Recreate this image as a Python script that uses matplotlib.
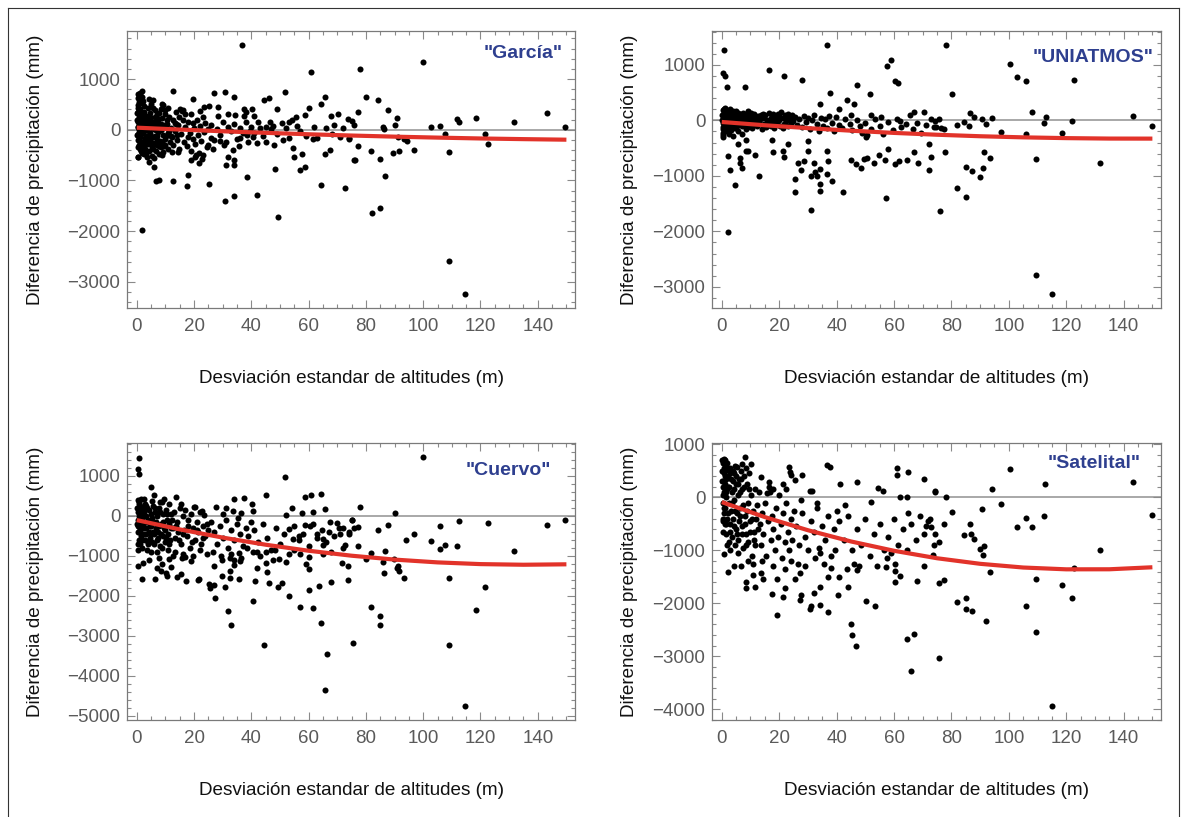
import numpy as np
import matplotlib
matplotlib.use("Agg")
import matplotlib.pyplot as plt
from matplotlib.ticker import MultipleLocator
from matplotlib.lines import Line2D

plt.rcParams['font.family'] = ['Liberation Sans', 'DejaVu Sans']

# ---- data (x = std dev of altitudes, y = precip. difference) ----
garcia_pts = [
    # outliers / sparse points
    (36.6, 1677), (61, 1137), (1.9, -1986), (49.4, -1729), (12.6, 756), (19.8, 611), (27.1, 717),
    (30.8, 750), (34, 644), (44.4, 592), (46, 625), (51.6, 750), (65.8, 638), (64.3, 513), (70.1, 309),
    (60.1, 421), (48.8, 408), (46.4, 151), (67.9, 263), (73.6, 210), (58.7, 283), (55.7, 243), (54.3, 197),
    (37.3, 414), (40.2, 414), (38, 348), (34.4, 283), (31.9, 316), (28.3, 440), (25.3, 473), (23.6, 447),
    (22.1, 362), (15.1, 408), (15.7, 362), (17, 309), (41, 263), (42.4, 145), (45, 53), (47.7, 79),
    (50.7, 125), (53, 151), (42.1, -256), (45, -250), (48, -296), (51.2, -210), (54.5, -362), (54.8, -546),
    (57.8, -480), (57, -789), (58.8, -743), (61.6, -178), (65.6, -473), (67.6, -408), (64.2, -1085),
    (72.7, -1144), (76, -592), (48.4, -769), (38.4, -927), (42.1, -1282), (34.1, -1302), (30.9, -1400),
    (34.1, -690), (34, -592), (32, -546), (31, -703), (25.2, -1072), (17.4, -1105), (17.9, -888),
    (21.7, -658), (19.1, -592), (20.7, -493), (12.6, -1006), (7.9, -993), (6.7, -1019), (6, -743),
    (4.3, -638), (5.3, -526), (8.7, -493), (0.5, -546), (2, -454), (14.3, -441), (10.8, -375),
    (25, -296), (26, -164), (29, -230), (30.3, -309), (35.7, -329), (36, -164), (38.4, -99), (40.7, -151),
    (77.8, 1190), (100, 1328), (79.9, 644), (84.3, 579), (77.4, 348), (87.6, 381), (90.7, 230), (90.3, 85),
    (86, 46), (86.3, 13), (75.3, 164), (75.8, 85), (102.8, 59), (105.8, 66), (111.8, 210), (112.6, 145),
    (118.5, 224), (131.7, 151), (143.2, 322), (149.4, 46), (107.7, -85), (109.1, -447), (121.5, -92),
    (122.5, -283), (96.9, -408), (93.4, -178), (94.2, -217), (91.1, -151), (91.7, -421), (89.6, -467),
    (86.8, -914), (84.9, -579), (81.8, -414), (77.1, -329), (76.2, -598), (74.1, -164), (82, -1644),
    (84.9, -1552), (109.1, -2597), (114.6, -3248),
    # dense cluster
    (0.2, 320), (0.3, 150), (0.4, -80), (0.5, 480), (0.5, -200), (0.6, 60), (0.7, 250), (0.8, -300),
    (0.9, 620), (1.0, -20), (1.1, 180), (1.2, -150), (1.3, 400), (1.4, 100), (1.5, -420), (0.3, -350),
    (0.6, -540), (0.9, 540), (1.2, 680), (1.0, 290), (0.4, 420), (0.7, -10), (1.4, -250), (0.2, 200),
    (0.8, 30), (1.2, 723), (1.9, 756), (0.5, 625),
    (2.1, 220), (2.3, -60), (2.5, 350), (2.6, -220), (2.8, 90), (3.0, -380), (3.1, 160), (3.3, -120),
    (3.4, 280), (3.6, 20), (3.8, -280), (3.9, 420), (2.2, 560), (2.7, -480), (3.5, -530), (2.4, 130),
    (3.2, -10), (3.7, 200), (2.9, -170), (4.0, 60),
    (4.2, -200), (4.5, 330), (4.7, -60), (5.0, 180), (5.2, -350), (5.4, 120), (5.6, -140), (5.8, 420),
    (6.0, 10), (6.2, -260), (6.4, 250), (6.6, -420), (6.8, 90), (7.0, -120), (4.8, 500), (5.9, -560),
    (6.5, 380), (7.1, 300), (4.4, -420), (6.9, -300), (4.4, 605), (5.5, 585),
    (7.3, 150), (7.5, -40), (7.8, 330), (8.0, -220), (8.2, 60), (8.5, -340), (8.8, 230), (9.0, -100),
    (9.2, 480), (9.5, 100), (9.8, -180), (10.0, 300), (7.6, -480), (9.3, -430), (8.6, -10), (9.7, 380),
    (10.0, -300), (8.7, 506), (8.4, 414),
    (10.4, 120), (10.8, -60), (11.2, 250), (11.6, -250), (12.0, 40), (12.4, -150), (12.8, 200),
    (13.2, -30), (13.6, 350), (14.0, -200), (14.4, 90), (14.8, -380), (11.0, 420), (12.2, -430),
    (13.8, 120), (14.9, 260), (11.8, -120),
    (15.5, -80), (16.0, 200), (16.5, -250), (17.0, 60), (17.5, -320), (18.0, 150), (18.5, -60),
    (19.0, 300), (19.5, -180), (20.0, 40), (20.5, -280), (21.0, 200), (21.5, -100), (22.0, 80),
    (22.5, -220), (23.0, 250), (23.5, -40), (24.0, 130), (24.5, -350), (25.0, 20), (16.3, 380),
    (18.8, -420), (21.8, -450), (23.2, -500), (17.8, -140), (20.2, -530), (22.8, -580), (19.5, 130),
    (26, 90), (27, -200), (28, 20), (29, -100), (30, 160), (31, -250), (32, 50), (33, -30), (34, 120),
    (35, -180), (36, 40), (37, -60), (38, 150), (39, -250), (40, 60), (26.5, -380), (28.5, 280),
    (33.5, -400), (37.5, 280), (39.5, -20),
    (41, -60), (43, 30), (44, -130), (47, 20), (49, -90), (52, 40), (53, -170), (56, 80), (57, -30),
    (59, -120), (62, 60), (63, -160), (66, 30), (68, -80), (69, 100), (71, -140), (72, 30), (74, -180),
    (0.1, -100), (0.3, 50), (0.6, 350), (0.8, -150), (1.1, -380), (1.3, 230), (1.6, -50), (1.8, 300),
    (2.0, -280), (2.2, 20), (2.4, -330), (2.6, 460), (3.0, 250), (3.3, -450), (3.6, -200), (4.1, 140),
    (4.3, -100), (4.6, 260), (5.1, -250), (5.3, 40), (5.7, -380), (6.1, 160), (6.3, -120), (6.7, 0),
    (7.2, -200), (7.4, 220), (7.9, -330), (8.3, 120), (8.9, -250), (9.1, 40), (9.6, -320), (10.3, -130),
    (10.6, 200), (11.4, -20), (12.6, -300), (13.4, 140), (14.2, -100), (1.7, 520), (2.0, 640), (0.4, 700),
]

uniatmos_pts = [
    (0.9, 1267), (0.6, 853), (1.2, 805), (1.9, 607), (2.1, -2012), (16.3, 907), (21.7, 793), (27.9, 733),
    (36.7, 1351), (37.8, 498), (8, 595), (34.1, 300), (41, 210), (43.5, 372), (46, 294), (47, 637),
    (51.7, 480), (51.9, 102), (57.4, 973), (58.9, 1081), (60.5, 703), (61.4, 673), (70.3, 150),
    (2.3, -637), (2.9, -895), (4.5, -1171), (6.2, -769), (6.4, -679), (7.2, -859), (5.8, -426),
    (8.5, -547), (9, -553), (8.5, -354), (11.6, -631), (12.8, -1003), (17.4, -348), (18, -565),
    (23, -432), (21.3, -559), (21.6, -667), (25.6, -1057), (25.5, -1291), (26.4, -775), (27.6, -889),
    (28.7, -739), (30, -366), (30, -547), (31, -1616), (31.2, -997), (32.1, -775), (32.6, -931),
    (33.3, -1009), (34.1, -1147), (34.1, -1267), (34.3, -871), (36.5, -547), (36.9, -733), (36.5, -961),
    (38.4, -1093), (42.3, -1297), (45.1, -709), (46.6, -781), (48.6, -859), (49.5, -697), (50.7, -679),
    (50.3, -306), (50.7, -258), (53, -769), (54.8, -619), (57, -709), (57.9, -523), (57.2, -1399),
    (60.5, -793), (61.9, -739), (64.5, -709), (67, -571), (68.3, -763), (72.1, -426), (72.2, -901),
    (72.9, -667), (75.9, -1640),
    (78.05, 1357), (80.1, 480), (100.3, 1021), (103, 787), (106.1, 715), (122.7, 727), (108, 150),
    (112.8, 60), (86.5, 126), (87.8, 66), (90.5, 30), (94.3, 48), (143.4, 84), (149.8, -96), (122.1, -6),
    (112.2, -42), (118.6, -234), (106.1, -252), (97.1, -210), (92, -72), (82, -84), (84.4, -36),
    (86.2, -96), (75.6, 24), (74.4, -18), (73.9, -114), (76.2, -138), (77.4, -156), (77.6, -565),
    (91.4, -571), (93.4, -673), (85.1, -847), (87, -907), (91.1, -859), (89.8, -1027), (82.1, -1225),
    (85, -1387), (109.4, -697), (131.8, -775), (109.4, -2793), (114.9, -3135),
    # dense band near zero
    (0.2, 100), (0.3, -50), (0.4, 180), (0.5, 30), (0.6, -120), (0.7, 80), (0.8, -10), (0.9, 140),
    (1.0, -80), (1.1, 50), (1.2, -200), (1.3, 110), (1.4, -30), (1.5, 70), (1.6, -150), (1.7, 20),
    (1.8, 130), (1.9, -60), (0.3, -300), (0.5, -260), (1.0, 220),
    (2.1, 90), (2.3, -100), (2.5, 40), (2.7, 150), (2.9, -40), (3.1, 80), (3.3, -170), (3.5, 10),
    (3.7, 120), (3.9, -80), (4.1, 60), (4.3, -20), (4.5, 140), (4.7, -130), (4.9, 30), (5.1, 100),
    (5.3, -60), (5.5, 70), (5.7, -200), (5.9, 20), (2.6, -250), (4.0, -280), (3.0, 200), (5.0, 170),
    (6.2, 110), (6.5, -40), (6.8, 60), (7.1, -110), (7.4, 130), (7.7, 0), (8.0, -70), (8.3, 90),
    (8.6, -160), (8.9, 40), (9.2, -20), (9.5, 100), (9.8, -90), (10.1, 50), (10.4, -130), (10.7, 80),
    (11.0, -10), (11.3, 120), (11.6, -60), (11.9, 30), (7.0, -250), (9.0, 160),
    (12.3, -100), (12.7, 70), (13.1, -30), (13.5, 100), (13.9, -150), (14.3, 40), (14.7, -60),
    (15.1, 90), (15.5, -120), (15.9, 10), (16.3, 130), (16.7, -80), (17.1, 50), (17.5, -30), (17.9, 110),
    (18.3, -140), (18.7, 60), (19.1, -50), (19.5, 120), (19.9, 0), (20.4, -100), (20.8, 150), (21.2, 40),
    (21.6, -70), (22.0, 90), (22.4, -20), (22.8, 60), (23.2, -110), (23.6, 30), (24.0, -40), (24.4, 100),
    (24.8, -10),
    (25.5, 60), (26.2, -80), (27.0, 30), (27.8, -120), (28.5, 80), (29.2, -30), (30, 50), (30.8, -160),
    (31.5, 10), (32.3, 90), (33, -60), (33.8, -200), (34.5, 40), (35.2, -100), (36, 20), (36.8, -140),
    (37.5, 70), (38.3, -50), (39, -190), (39.8, 60),
    (41, -80), (42, -140), (43, 30), (44.5, -60), (45.5, -170), (47, 10), (48, -100), (49, -220),
    (50, -40), (52, -150), (53.5, 30), (55, -110), (56, -250), (58, -30), (59.5, -180), (61, 20),
    (62.5, -120), (64, -60), (65.5, 100), (66.5, -160), (68, -40), (69.5, -220), (71, -90), (73, 20),
    (74.5, -120), (45, 90), (55.5, 60), (62, -20), (67, 150),
    (0.1, 0), (0.4, -150), (0.7, 200), (1.0, 120), (1.3, -110), (1.6, 60), (1.9, 170), (2.2, -30),
    (2.5, -140), (2.8, 110), (3.2, -60), (3.6, 50), (4.0, 160), (4.4, -90), (4.8, 90), (5.2, -110),
    (5.6, 140), (6.0, -30), (6.4, 60), (6.9, -80), (7.3, 30), (7.8, 120), (8.2, -20), (8.7, 80),
    (9.3, -120), (9.7, 30), (10.3, 130), (10.9, -50), (11.5, 60), (12.0, -70), (13.3, 20), (14.5, 110),
    (15.7, -40), (17.3, -100), (18.5, 20), (20.1, 80), (21.4, -140), (23, 110), (0.6, -220), (2.0, -200),
]

cuervo_pts = [
    (0.8, 1433), (0.3, 1158), (0.9, 1033), (4.8, 708), (5.9, 508), (13.6, 475), (51.6, 958), (34, 408),
    (37.6, 433), (40.1, 283), (45.1, 508), (58.7, 475), (61, 517), (64.4, 542), (65.7, 158), (61.4, 83),
    (57.6, 75), (54.3, 192), (52, 25), (27.7, 208), (31, 183), (33.5, 125), (36.5, 58), (40.7, 108),
    (8.1, 342), (15.5, 292), (20.2, 225), (22.8, 117),
    (0.6, -1258), (2.1, -1175), (1.9, -1592), (6.2, -1592), (4.2, -1108), (7, -1308), (8.4, -1375),
    (7.9, -1050), (8.7, -1208), (10.1, -1442), (10.7, -1500), (11.9, -1275), (11.4, -1075), (12.6, -1008),
    (14.2, -1542), (15.5, -1458), (15.8, -1058), (16.7, -1025), (17.2, -1625), (19.1, -1142),
    (21.3, -1600), (21.9, -1592), (25.3, -1708), (25.5, -1808), (27.1, -1258), (27.3, -2067),
    (29.9, -1500), (30.9, -1775), (31.9, -2375), (32.8, -2742), (32.6, -1567), (32.6, -1067),
    (34.1, -1108), (34.1, -1233), (35.7, -1575), (35.9, -1133), (40.7, -2125), (41.3, -1642),
    (42.1, -1308), (44.4, -3242), (45.3, -1417), (46.3, -1675), (49.3, -1783), (50.8, -1675),
    (53.3, -2008), (57, -2275), (60.1, -1858), (61.6, -2317), (64.3, -2692), (66.5, -3458),
    (65.6, -4358), (67.7, -1650), (60.2, -1333), (60.2, -1042), (63.6, -1767), (57, -967),
    (75.6, -3175), (73.8, -1608), (71.7, -1192), (67.7, -900), (49.5, -1092), (47.7, -1108),
    (48.1, -858), (41.9, -900), (45, -1175), (40.5, -908), (35.7, -942), (32.6, -1383), (29.7, -1108),
    (27.1, -1733), (53.3, -342), (54.4, -592), (56.6, -508), (58.6, -233), (60.6, -258), (62.8, -458),
    (65.1, -583), (64.9, -725), (67.1, -400), (69.9, -192), (71.9, -300), (74, -458), (75.1, -108),
    (100, 1458), (77.8, 217), (90.3, 75), (75.3, -100), (77.1, -283), (75.7, -317), (84.3, -350),
    (87.6, -242), (94.1, -617), (96.9, -458), (102.8, -633), (105.8, -267), (105.8, -842), (107.7, -725),
    (111.9, -750), (112.6, -133), (122.5, -183), (131.7, -875), (143.2, -225), (149.5, -117),
    (77.4, -758), (72.7, -725), (81.8, -933), (80, -1075), (73.6, -1258), (86, -1150), (86.8, -883),
    (89.7, -1092), (86.4, -1433), (90.8, -1300), (91.7, -1383), (93.4, -1558), (91.3, -1250),
    (81.9, -2292), (84.8, -2500), (85, -2725), (109.1, -1567), (109.1, -3225), (121.7, -1792),
    (118.4, -2367), (114.6, -4767),
    # dense cluster
    (0.2, 200), (0.3, -100), (0.4, -400), (0.5, 100), (0.6, -250), (0.7, 350), (0.8, -600), (0.9, 0),
    (1.0, -350), (1.1, 250), (1.2, -700), (1.3, -150), (1.4, 50), (1.5, -500), (1.6, 420), (1.7, -800),
    (1.8, -50), (1.9, 150), (0.4, -850), (1.0, -300),
    (2.2, -200), (2.4, 100), (2.6, -450), (2.8, 300), (3.0, -600), (3.2, 0), (3.4, -300), (3.6, 200),
    (3.8, -700), (4.0, -100), (4.2, -400), (4.4, 150), (4.6, -550), (4.8, 50), (5.0, -250), (5.2, 380),
    (5.4, -650), (5.6, -150), (5.8, 250), (6.0, -450), (2.5, 420), (3.5, -850), (5.0, -900),
    (6.3, 100), (6.6, -300), (6.9, -600), (7.2, 0), (7.5, -400), (7.8, 200), (8.1, -750), (8.4, -200),
    (8.7, 350), (9.0, -500), (9.3, 50), (9.6, -300), (9.9, -650), (10.2, 150), (10.5, -100),
    (10.8, -450), (11.1, 300), (11.4, -200), (11.7, -600), (12.0, 50), (7.0, -900), (9.5, 420),
    (11.0, -850),
    (12.5, -300), (13, 100), (13.5, -550), (14, -150), (14.5, -400), (15, 200), (15.5, -700), (16, 0),
    (16.5, -350), (17, 150), (17.5, -500), (18, -100), (18.5, -800), (19, 50), (19.5, -300), (20, 220),
    (20.5, -600), (21, -150), (21.5, -400), (22, 100), (22.5, -700), (23, -250), (23.5, 30), (24, -500),
    (24.5, -200), (25, -350), (13.2, -900), (16, -950), (19.5, -1000), (22, -850), (24.5, -950),
    (26, -150), (27, -400), (28, -700), (29, -250), (30, -550), (31, -100), (32, -800), (33, -350),
    (34, -600), (35, -200), (36, -450), (37, -750), (38, -300), (39, -500), (40, -150), (26.5, -900),
    (29.5, -1000), (33, -950), (36.5, -1050), (38.5, -800), (30, 50), (35.5, -50),
    (41, -350), (42.5, -650), (44, -200), (45.5, -550), (47, -850), (48.5, -300), (50, -700),
    (51.5, -450), (53, -950), (55, -250), (56.5, -600), (58, -450), (60, -750), (61.5, -200),
    (63, -550), (64.5, -350), (66, -650), (67.5, -150), (69, -500), (70.5, -300), (72, -800),
    (74, -400), (43, -1000), (52, -1150), (59, -1200), (65, -950), (71, -450), (45, -900), (55, -850),
    (0.1, -200), (0.5, -700), (0.8, 300), (1.1, -100), (1.4, -450), (1.7, 200), (2.0, -600), (2.3, -300),
    (2.7, 0), (3.1, -450), (3.3, 250), (3.7, -150), (4.1, -650), (4.5, -250), (4.9, -450), (5.3, -50),
    (5.7, -400), (6.1, -700), (6.4, 200), (6.8, -150), (7.3, -550), (7.7, -250), (8.0, 100), (8.5, -450),
    (8.9, -800), (9.2, -150), (9.8, -350), (10.3, -550), (10.7, 50), (11.3, -700), (11.8, -300),
    (12.3, -100), (13.7, -250), (14.8, -600), (16.2, -450), (17.8, -250), (19.2, -650), (21.2, -350),
    (23.2, -550), (0.3, 400),
]

satelital_pts = [
    (8.1, 767), (0.7, 723), (10.2, 623), (23.3, 579), (23.8, 472), (24.2, 421), (27.9, 421),
    (25.6, 333), (21.2, 252), (36.6, 610), (37.8, 566), (41.2, 245), (47, 289), (54.4, 182), (56, 126),
    (61.2, 553), (61.2, 415), (64.7, 472), (70.5, 352), (62, 0), (64.5, 0), (74.2, 107), (13.7, 384),
    (16.3, 296), (17.9, 157), (30.6, 126), (31.4, 126), (15.7, 75),
    (0.9, -1075), (2.1, -1402), (4.4, -1289), (6.6, -1289), (8.5, -1604), (8.5, -1704), (11.6, -1698),
    (10.8, -1459), (13.7, -1421), (14.3, -1541), (17.4, -1818), (19.3, -2220), (21.2, -1880),
    (21.9, -1704), (27.2, -1943), (25.5, -1547), (27.3, -1428), (30.8, -2113), (31, -2044),
    (34.3, -2038), (36.9, -2163), (40.6, -1849), (41, -1503), (44.1, -1685), (44.9, -2390),
    (45.5, -2597), (46.6, -2811), (43.6, -1358), (50.1, -1962), (53.5, -2044), (47.7, -1296),
    (47, -1365), (36.9, -1509), (34.1, -1692), (32, -1805), (27.7, -1836), (22.1, -1352),
    (19.3, -1547), (60.5, -1384), (60.5, -1597), (62, -1490), (64.5, -2679), (66.9, -2572),
    (65.8, -3283), (68.1, -1572), (75.8, -3031), (75.8, -1610), (70.6, -1296), (57.4, -1151),
    (57.2, -1321), (60.5, -1258), (34.1, -1057), (38.1, -1340),
    (100.3, 535), (74.3, 113), (94.3, 164), (112.7, 245), (143.4, 296), (78, 0), (97.2, -126),
    (80.1, -283), (90.5, -226), (72.7, -409), (73, -566), (77.5, -503), (74.2, -686), (75.6, -843),
    (73.6, -1094), (84.4, -711), (86.3, -503), (86.7, -698), (87.8, -780), (89.8, -968), (91.4, -918),
    (91.1, -1088), (93.4, -1409), (82, -1975), (85.1, -1899), (85.1, -2100), (87, -2145),
    (92, -2339), (77.4, -1560), (109.3, -1547), (106, -2044), (109.4, -2547), (103, -566),
    (106.1, -396), (108, -566), (112.1, -358), (118.6, -1648), (121.9, -1899), (122.7, -1340),
    (131.8, -987), (149.8, -327), (114.9, -3943),
    # dense cluster
    (0.2, 500), (0.3, 200), (0.4, -100), (0.5, 650), (0.6, 300), (0.7, -300), (0.8, 100), (0.9, 450),
    (1.0, -500), (1.1, 250), (1.2, -200), (1.3, 600), (1.4, 0), (1.5, -700), (1.6, 350), (1.7, -400),
    (1.8, 150), (1.9, -900), (0.4, -650), (1.0, 700), (0.6, -450), (1.5, 520),
    (2.2, 400), (2.4, -100), (2.6, 200), (2.8, -500), (3.0, 550), (3.2, -250), (3.4, 100), (3.6, -750),
    (3.8, 300), (4.0, -400), (4.2, 450), (4.4, -50), (4.6, -900), (4.8, 250), (5.0, -600), (5.2, 580),
    (5.4, -300), (5.6, 50), (5.8, -800), (6.0, 350), (3.0, -1000), (4.5, 600), (2.5, -850),
    (5.5, -1050),
    (6.3, -200), (6.6, 500), (6.9, -550), (7.2, 150), (7.5, -950), (7.8, 400), (8.1, -350),
    (8.4, -700), (8.7, 250), (9.0, -100), (9.3, -850), (9.6, 450), (9.9, -450), (10.2, 50),
    (10.5, -1100), (10.8, -250), (11.1, -650), (11.4, 150), (11.7, -900), (12.0, -400), (7.0, 620),
    (9.0, -1200), (11.0, -1250),
    (12.5, -600), (13, 100), (13.5, -900), (14, -300), (14.5, -700), (15, -100), (15.5, -1100),
    (16, -450), (16.5, 200), (17, -800), (17.5, -350), (18, -600), (18.5, -1000), (19, -200),
    (19.5, -750), (20, 50), (20.5, -500), (21, -1150), (21.5, -300), (22, -850), (22.5, -100),
    (23, -650), (23.5, -1000), (24, -400), (24.5, -800), (25, -250), (14, -1200), (18, -1300),
    (24, -1200), (16.8, 100), (22.3, 150),
    (26, -550), (27, -900), (28, -300), (29, -750), (30, -1000), (31, -450), (32, -650), (33, -200),
    (34, -950), (35, -550), (36, -800), (37, -350), (38, -1100), (39, -600), (40, -250), (26.5, -1250),
    (29, -1300), (32.5, -1150), (35.5, -1250), (39.5, -1000), (27.5, -50), (33, -100),
    (41, -450), (42.5, -800), (44, -350), (45.5, -1000), (47, -600), (48.5, -900), (50, -400),
    (51.5, -1100), (53, -700), (55, -500), (56.5, -1000), (58, -750), (60, -400), (61.5, -900),
    (63, -600), (64.5, -1000), (66, -500), (67.5, -800), (69, -350), (70.5, -700), (72, -450),
    (74, -900), (43, -150), (52, -80), (59, -1050), (65, -300), (71, -550), (46, -1250), (54, -1300),
    (0.1, 300), (0.3, -400), (0.5, 50), (0.7, 550), (0.9, -200), (1.1, 400), (1.3, -500), (1.6, 100),
    (1.8, 650), (2.1, -300), (2.3, 200), (2.7, 450), (2.9, -650), (3.3, 350), (3.5, -100), (3.9, 500),
    (4.1, -550), (4.3, 150), (4.7, -250), (5.1, 400), (5.3, -700), (5.7, 250), (5.9, -450), (6.2, 100),
    (6.5, -350), (6.8, 350), (7.1, -700), (7.4, -150), (7.7, 200), (8.0, -500), (8.3, 550), (8.6, -900),
    (8.9, -250), (9.4, 150), (9.8, -650), (10.4, -400), (11.3, -800), (12.2, -150), (13.2, -500),
    (0.2, 700),
]

# fitted trend (red) read at regular x positions
fit_x = [0, 15, 30, 45, 60, 75, 90, 105, 120, 135, 150]
garcia_fit = [40, 3, -31, -62, -90, -115, -137, -156, -173, -186, -197]
uniatmos_fit = [-30, -89, -141, -187, -227, -260, -287, -307, -321, -329, -330]
cuervo_fit = [-110, -342, -547, -725, -876, -1000, -1097, -1167, -1210, -1226, -1215]
satelital_fit = [-90, -373, -621, -833, -1009, -1150, -1255, -1325, -1359, -1358, -1320]

labels = ['"García"', '"UNIATMOS"', '"Cuervo"', '"Satelital"']

W, H = 1181, 817
fig = plt.figure(figsize=(W / 100, H / 100), dpi=100)

# axes boxes in pixels: left, top, right, bottom
boxes = [(127.3, 31.3, 575, 308), (712.3, 31.3, 1161, 308),
         (127.3, 443.3, 575, 720), (712.3, 443.3, 1161, 720)]
ylims = [(-3517, 1941), (-3382, 1604), (-5107, 1810), (-4202, 1019)]
ylab_x = [-0.205, -0.185, -0.205, -0.185]
lab_pos = [(0.973, 0.92), (0.984, 0.907), (0.946, 0.903), (0.955, 0.927)]
all_pts = [garcia_pts, uniatmos_pts, cuervo_pts, satelital_pts]
all_fit = [garcia_fit, uniatmos_fit, cuervo_fit, satelital_fit]

for i, (l, t, r, b) in enumerate(boxes):
    ax = fig.add_axes([l / W, 1 - b / H, (r - l) / W, (b - t) / H])
    pts = np.array(all_pts[i])
    ax.axhline(0, color='#9a9a9a', lw=1.2, zorder=1)
    ax.scatter(pts[:, 0], pts[:, 1], s=19, color='black', linewidths=0, zorder=2)
    ax.plot(fit_x, all_fit[i], color='#e2332a', lw=3, zorder=3, solid_capstyle='butt')
    ax.set_xlim(-3.3, 153)
    ax.set_ylim(*ylims[i])
    ax.xaxis.set_major_locator(MultipleLocator(20))
    ax.xaxis.set_minor_locator(MultipleLocator(5))
    ax.yaxis.set_major_locator(MultipleLocator(1000))
    ax.yaxis.set_minor_locator(MultipleLocator(200))
    ax.tick_params(which='both', direction='in', top=True, right=True, color='#8a8a8a',
                   labelsize=13.5, labelcolor='#5a5a5a', width=0.8)
    ax.tick_params(which='major', length=5.5)
    ax.tick_params(which='minor', length=3)
    ax.tick_params(axis='x', pad=7)
    ax.tick_params(axis='y', pad=5)
    for sp in ax.spines.values():
        sp.set_color('#7a7a7a')
        sp.set_linewidth(0.9)
    ax.set_xlabel('Desviación estandar de altitudes (m)', fontsize=13.6, color='#111111', va='center')
    ax.xaxis.set_label_coords(0.5, -0.253)
    ax.set_ylabel('Diferencia de precipitación (mm)', fontsize=13.6, color='#111111', va='center')
    ax.yaxis.set_label_coords(ylab_x[i], 0.5)
    ax.text(lab_pos[i][0], lab_pos[i][1], labels[i], transform=ax.transAxes, ha='right', va='center',
            fontsize=14, fontweight='bold', color='#2e3f8f')

# thin frame around the whole figure
fig.add_artist(Line2D([8 / W, 8 / W], [0, 1 - 8 / H], color='#333333', lw=0.8))
fig.add_artist(Line2D([8 / W, 1179 / W], [1 - 8 / H, 1 - 8 / H], color='#333333', lw=0.8))
fig.add_artist(Line2D([1179 / W, 1179 / W], [0, 1 - 8 / H], color='#333333', lw=0.8))

fig.savefig('out.png', dpi=100)
